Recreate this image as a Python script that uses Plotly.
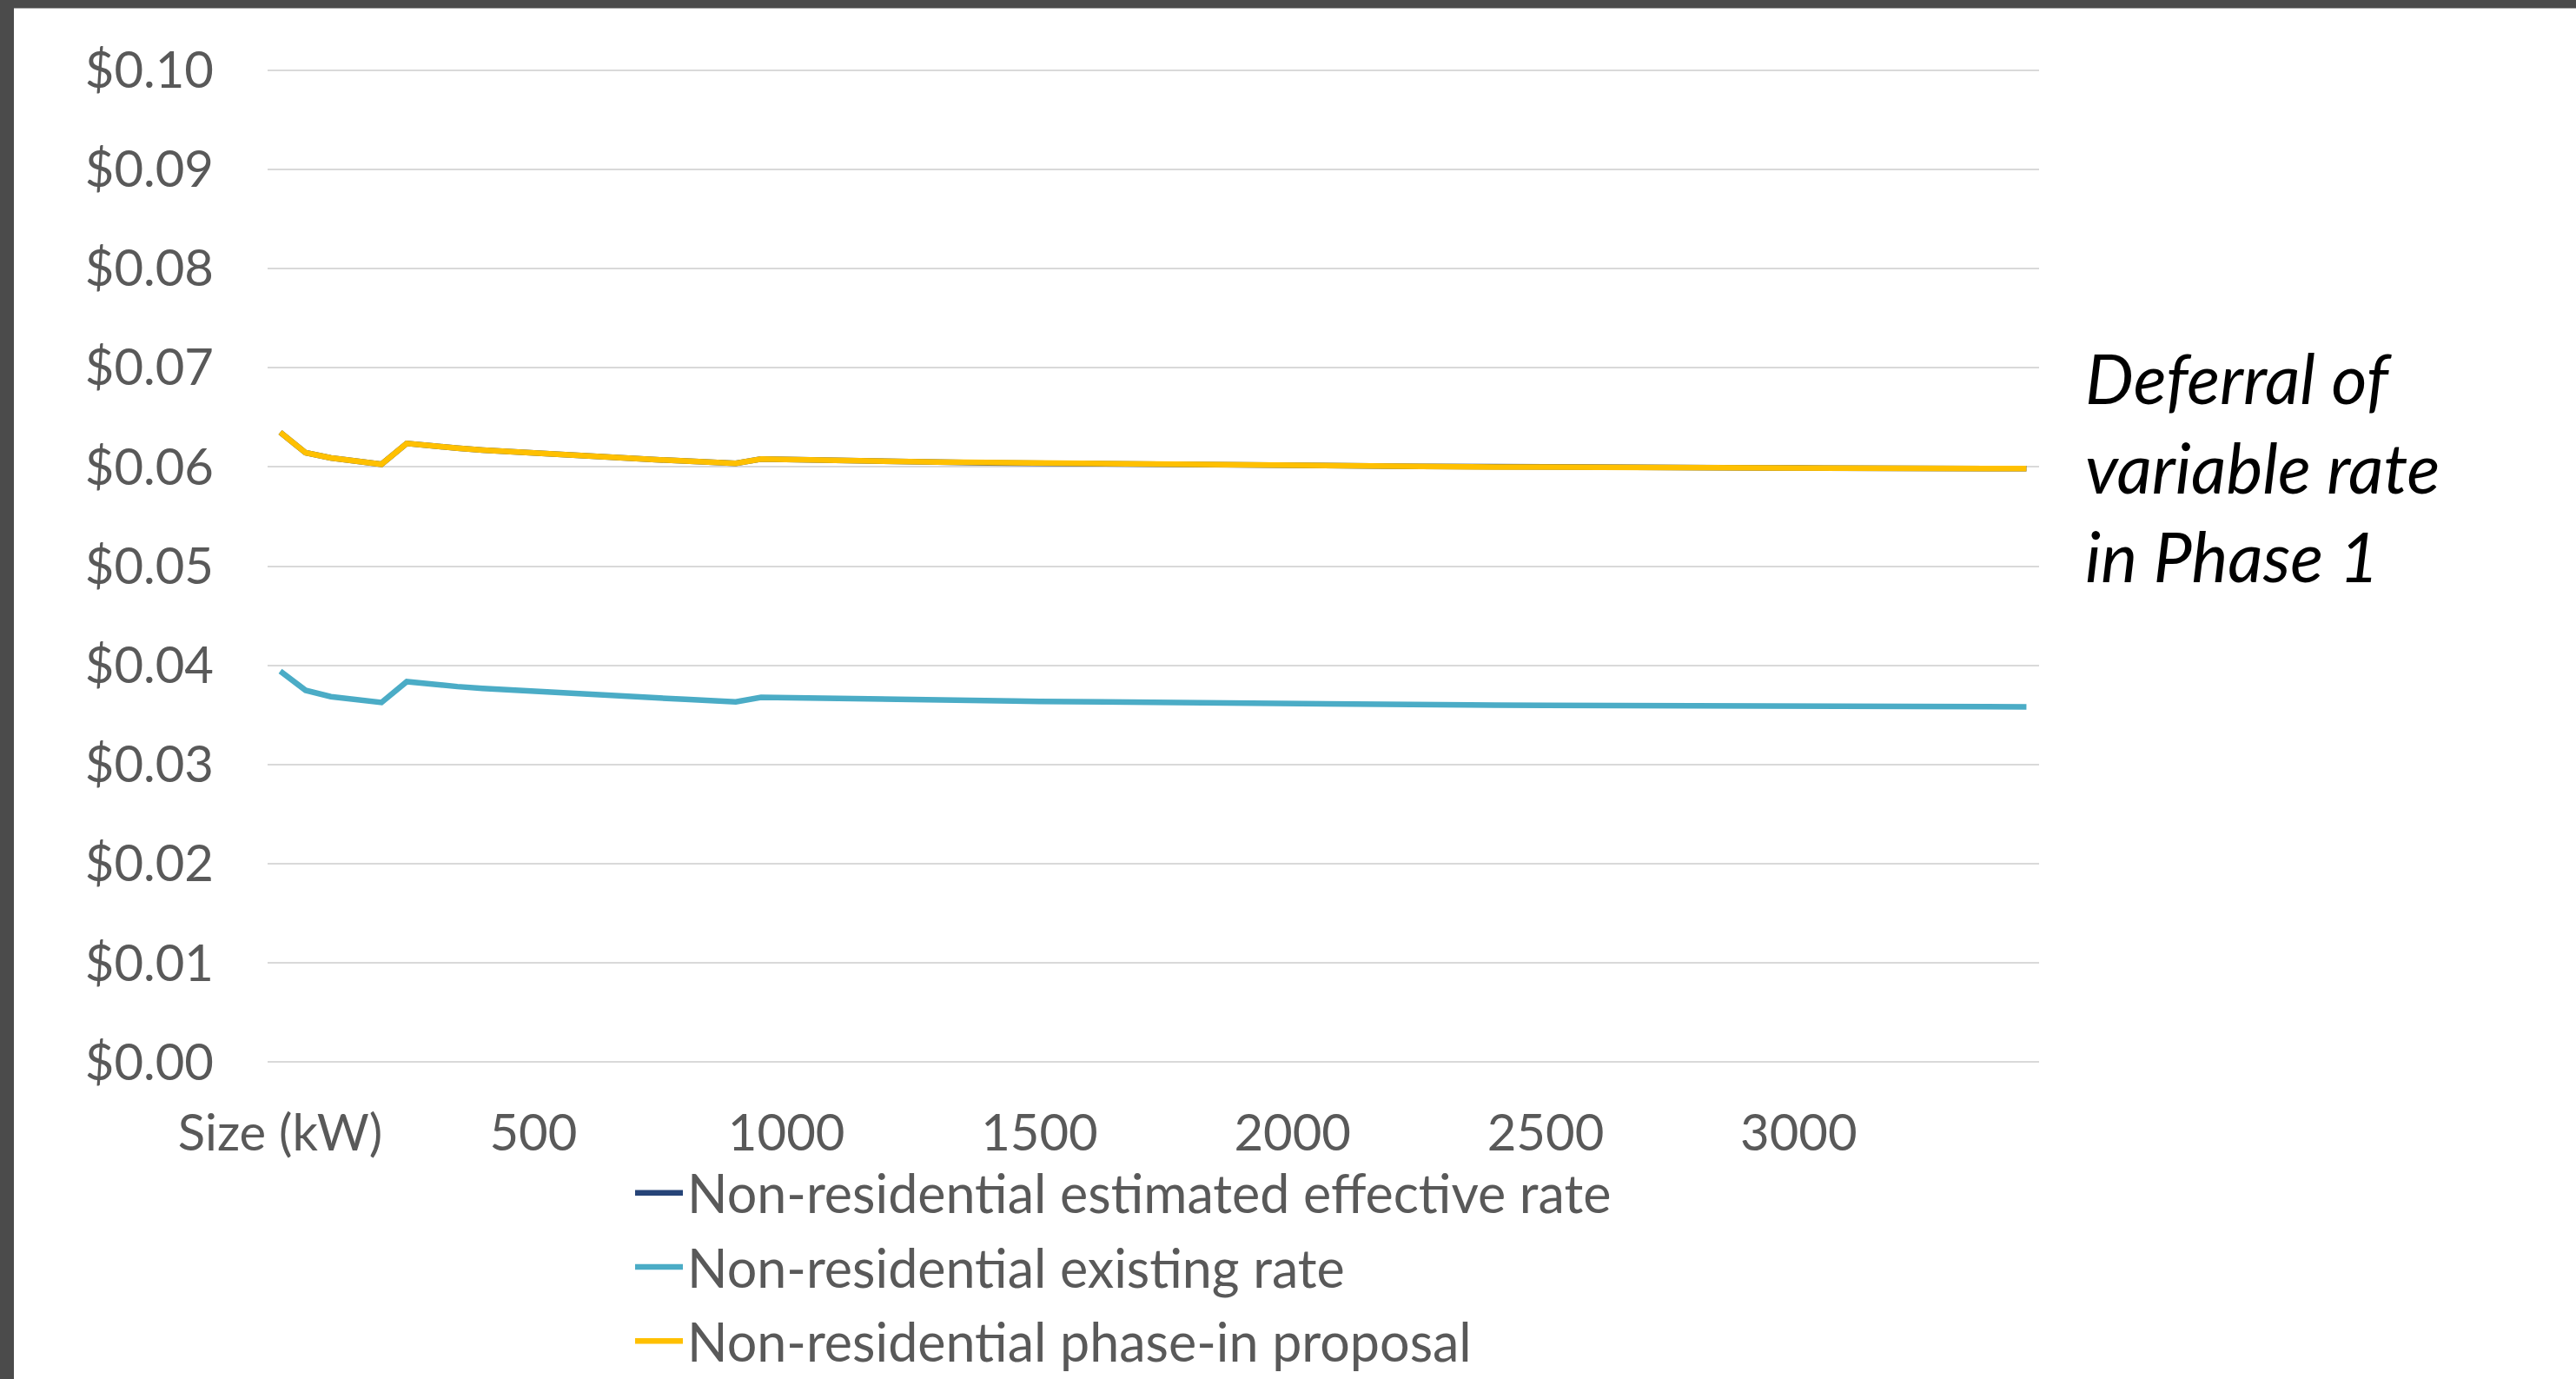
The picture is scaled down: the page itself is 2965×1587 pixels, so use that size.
import plotly.graph_objects as go

# ---- data ----
sizes = ["Size (kW)"] + [str(s) for s in range(50, 3500, 50)]

existing_rate = [
    0.03941, 0.03748, 0.03684, 0.03649, 0.03626, 0.03836, 0.03805, 0.03786, 0.03768, 0.03752,
    0.03738, 0.03722, 0.03708, 0.03696, 0.03682, 0.03670, 0.03658, 0.03646, 0.03632, 0.03678,
    0.03673, 0.03668, 0.03664, 0.03660, 0.03656, 0.03652, 0.03649, 0.03646, 0.03643, 0.03640,
    0.03637, 0.03634, 0.03631, 0.03629, 0.03626, 0.03624, 0.03622, 0.03620, 0.03618, 0.03616,
    0.03614, 0.03612, 0.03610, 0.03608, 0.03606, 0.03604, 0.03602, 0.03600, 0.03599, 0.03598,
    0.03597, 0.03596, 0.03595, 0.03594, 0.03593, 0.03592, 0.03591, 0.03590, 0.03590, 0.03589,
    0.03588, 0.03587, 0.03587, 0.03586, 0.03585, 0.03585, 0.03584, 0.03583, 0.03583, 0.03582,
]

phase_in_proposal = [
    0.06348, 0.06143, 0.06090, 0.06061, 0.06026, 0.06237, 0.06207, 0.06188, 0.06169, 0.06153,
    0.06138, 0.06122, 0.06108, 0.06096, 0.06083, 0.06071, 0.06059, 0.06048, 0.06036, 0.06079,
    0.06073, 0.06068, 0.06064, 0.06059, 0.06055, 0.06052, 0.06049, 0.06046, 0.06043, 0.06040,
    0.06037, 0.06034, 0.06031, 0.06029, 0.06026, 0.06024, 0.06022, 0.06020, 0.06018, 0.06016,
    0.06014, 0.06012, 0.06010, 0.06008, 0.06006, 0.06004, 0.06002, 0.06000, 0.05999, 0.05998,
    0.05997, 0.05996, 0.05995, 0.05994, 0.05993, 0.05992, 0.05991, 0.05990, 0.05990, 0.05989,
    0.05988, 0.05987, 0.05987, 0.05986, 0.05985, 0.05985, 0.05984, 0.05983, 0.05983, 0.05982,
]

estimated_effective_rate = [
    0.06348, 0.06143, 0.06090, 0.06061, 0.06026, 0.06237, 0.06207, 0.06188, 0.06169, 0.06153,
    0.06138, 0.06122, 0.06108, 0.06096, 0.06083, 0.06071, 0.06059, 0.06048, 0.06036, 0.06079,
    0.06073, 0.06068, 0.06064, 0.06057, 0.06053, 0.06050, 0.06047, 0.06044, 0.06041, 0.06038,
    0.06035, 0.06032, 0.06030, 0.06028, 0.06025, 0.06023, 0.06022, 0.06020, 0.06018, 0.06016,
    0.06014, 0.06013, 0.06011, 0.06009, 0.06007, 0.06005, 0.06003, 0.06001, 0.06000, 0.05999,
    0.05998, 0.05997, 0.05996, 0.05995, 0.05994, 0.05993, 0.05992, 0.05991, 0.05991, 0.05990,
    0.05989, 0.05988, 0.05988, 0.05987, 0.05986, 0.05986, 0.05985, 0.05984, 0.05984, 0.05983,
]

y_ticks = [0.00, 0.01, 0.02, 0.03, 0.04, 0.05, 0.06, 0.07, 0.08, 0.09, 0.10]
x_tick_idx = [0, 10, 20, 30, 40, 50, 60]

series_names = [
    "Non-residential estimated effective rate",
    "Non-residential existing rate",
    "Non-residential phase-in proposal",
]
series_colors = ["#264478", "#4BACC6", "#FFC000"]
note_text = "Deferral of<br>variable rate<br>in Phase 1"

# ---- layout geometry (pixels) ----
W, H = 2965, 1587
Y_TOP_PX, Y_ZERO_PX = 81, 1222          # where 0.10 and 0.00 gridlines sit
Y_MIN, Y_MAX = -0.0004, 0.1004           # small pad so edge gridlines are drawn
px_per_unit = (Y_ZERO_PX - Y_TOP_PX) / 0.1
ML, MR = 308, 618
MT = Y_TOP_PX - (Y_MAX - 0.1) * px_per_unit
MB = H - (Y_ZERO_PX + (0 - Y_MIN) * px_per_unit)
PW, PH = W - ML - MR, H - MT - MB

def px_x(px):
    return (px - ML) / PW

def px_y(py):
    return (H - MB - py) / PH

FONT = "Lato"
GRAY = "#595959"

fig = go.Figure()
for name, vals, col in zip(series_names,
                           [estimated_effective_rate, existing_rate, phase_in_proposal],
                           series_colors):
    fig.add_trace(go.Scatter(
        x=sizes, y=vals, mode="lines", name=name, legendgroup=name,
        line=dict(color=col, width=6.5),
        hoverinfo="x+y",
    ))

fig.update_layout(
    width=W, height=H,
    margin=dict(l=ML, r=MR, t=MT, b=MB, pad=0, autoexpand=False),
    paper_bgcolor="white",
    plot_bgcolor="white",
    font=dict(family=FONT, color=GRAY, size=58),
    showlegend=True,
    legend=dict(
        x=px_x(726), y=px_y(1326), xanchor="left", yanchor="top",
        orientation="v", traceorder="grouped", tracegroupgap=3,
        itemwidth=55,
        font=dict(family=FONT, size=61, color=GRAY),
        bgcolor="rgba(0,0,0,0)",
    ),
    xaxis=dict(
        type="category",
        categoryorder="array", categoryarray=sizes,
        range=[-0.5, len(sizes) - 0.5],
        tickmode="array",
        tickvals=[sizes[i] for i in x_tick_idx],
        ticktext=[sizes[i] for i in x_tick_idx],
        showgrid=False, zeroline=False, showline=False,
        ticks="", ticklabelstandoff=38,
        tickfont=dict(family=FONT, size=58, color=GRAY),
        fixedrange=True, automargin=False,
    ),
    yaxis=dict(
        range=[Y_MIN, Y_MAX],
        tickmode="array", tickvals=y_ticks,
        tickformat="$.2f",
        showgrid=True, gridcolor="#D9D9D9", gridwidth=2,
        zeroline=False, showline=False,
        ticks="", ticklabelstandoff=61,
        tickfont=dict(family=FONT, size=58, color=GRAY),
        fixedrange=True, automargin=False,
    ),
    annotations=[dict(
        text=note_text, xref="paper", yref="paper",
        x=px_x(2398), y=px_y(537), xanchor="left", yanchor="middle",
        align="left", showarrow=False,
        font=dict(family=FONT, size=79, color="black", style="italic"),
    )],
    shapes=[
        dict(type="rect", xref="paper", yref="paper", layer="above",
             x0=px_x(0), x1=px_x(W), y0=px_y(0), y1=px_y(10),
             fillcolor="#4B4B4B", line=dict(width=0)),
        dict(type="rect", xref="paper", yref="paper", layer="above",
             x0=px_x(0), x1=px_x(16), y0=px_y(0), y1=px_y(H),
             fillcolor="#4B4B4B", line=dict(width=0)),
    ],
)

fig.write_html(
    "out.html",
    config={"displayModeBar": False},
    post_script="document.body.style.margin='0';document.body.style.overflow='hidden';",
)
